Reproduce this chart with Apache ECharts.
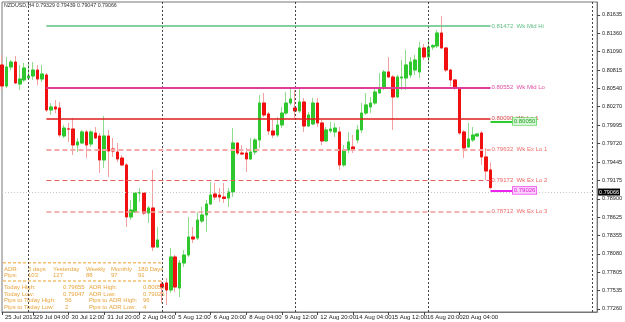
<!DOCTYPE html>
<html><head><meta charset="utf-8">
<script src="https://cdn.jsdelivr.net/npm/echarts@6/dist/echarts.min.js"></script>
<style>html,body{margin:0;padding:0;background:#fff}#c{width:625px;height:322px}</style>
</head><body><div id="c"></div><script>
const symbolName = 'NZDUSD,H4';
const barOpen = [0.80891,0.80578,0.80861,0.80935,0.80608,0.80668,0.80697,0.80727,0.80816,0.80682,
0.80742,0.80221,0.80266,0.80251,0.79834,0.79938,0.79938,0.79700,0.79730,0.79894,
0.79715,0.79879,0.79834,0.79477,0.79834,0.79641,0.79596,0.79507,0.79403,0.78629,
0.78703,0.78986,0.78986,0.78688,0.78763,0.78182,0.77632,0.77647,0.77543,0.78034,
0.77572,0.77944,0.78063,0.78331,0.78316,0.78569,0.78659,0.78822,0.78971,0.78956,
0.78926,0.78912,0.79001,0.79730,0.79581,0.79581,0.79492,0.79596,0.79775,0.80325,
0.80162,0.79909,0.79849,0.79998,0.80176,0.80325,0.80251,0.80206,0.80340,0.79983,
0.80013,0.80325,0.80028,0.79760,0.79909,0.79894,0.79894,0.79403,0.79626,0.79671,
0.79775,0.79924,0.80176,0.80266,0.80325,0.80474,0.80549,0.80787,0.80712,0.80415,
0.80697,0.80697,0.80742,0.80816,0.80787,0.81144,0.81010,0.81159,0.81174,0.81367,
0.81144,0.80816,0.80668,0.80549,0.79894,0.79671,0.79775,0.79834,0.79879,0.79522,0.79329];
const barHigh = [0.81040,0.81010,0.80965,0.81025,0.80891,0.80921,0.80935,0.80935,0.80891,0.80891,
0.80772,0.80325,0.80370,0.80340,0.79998,0.80028,0.80102,0.79804,0.79924,0.79924,
0.79924,0.79968,0.79879,0.80132,0.79924,0.79804,0.79730,0.79551,0.79432,0.78882,
0.79001,0.79060,0.79001,0.78793,0.79328,0.78480,0.77677,0.77721,0.78168,0.78063,
0.77989,0.78138,0.78629,0.78480,0.78703,0.78778,0.78882,0.79150,0.79135,0.79060,
0.79135,0.79060,0.79953,0.79745,0.79700,0.79656,0.79804,0.79804,0.80444,0.80474,
0.80191,0.80072,0.80117,0.80266,0.80489,0.80534,0.80519,0.80534,0.80400,0.80191,
0.80400,0.80400,0.80072,0.79968,0.80043,0.80028,0.79968,0.79700,0.79894,0.79849,
0.79998,0.80325,0.80474,0.80415,0.80563,0.80772,0.80816,0.81010,0.80742,0.80742,
0.80965,0.81114,0.81010,0.81040,0.81233,0.81203,0.81263,0.81203,0.81412,0.81620,
0.81159,0.80831,0.80682,0.80563,0.79924,0.80028,0.79968,0.79879,0.79909,0.79655,0.79439];
const barLow = [0.80519,0.80549,0.80816,0.80608,0.80519,0.80638,0.80668,0.80668,0.80593,0.80638,
0.80191,0.80147,0.80176,0.79819,0.79804,0.79745,0.79551,0.79596,0.79715,0.79507,
0.79671,0.79790,0.79284,0.79358,0.79224,0.79522,0.79447,0.79388,0.78480,0.78584,
0.78688,0.78852,0.78659,0.78540,0.78123,0.78168,0.77349,0.77319,0.77498,0.77513,
0.77438,0.77885,0.78034,0.78242,0.78287,0.78540,0.78406,0.78807,0.78882,0.78852,
0.78837,0.78778,0.78926,0.79551,0.79551,0.79298,0.79477,0.79551,0.79656,0.80117,
0.79849,0.79804,0.79819,0.79953,0.80147,0.80296,0.80102,0.80176,0.79894,0.79968,
0.79998,0.79968,0.79700,0.79745,0.79879,0.79819,0.79328,0.79373,0.79581,0.79581,
0.79730,0.79879,0.80147,0.80176,0.80296,0.80474,0.80519,0.80697,0.79924,0.80400,
0.80519,0.80519,0.80697,0.80742,0.80697,0.80965,0.80921,0.81114,0.81144,0.81129,
0.80787,0.80578,0.80519,0.79849,0.79507,0.79656,0.79745,0.79819,0.79403,0.79179,0.79047];
const barClose = [0.80578,0.80861,0.80935,0.80623,0.80682,0.80846,0.80727,0.80816,0.80682,0.80757,
0.80221,0.80266,0.80236,0.79849,0.79953,0.79938,0.79700,0.79745,0.79894,0.79700,
0.79894,0.79804,0.79477,0.79834,0.79611,0.79611,0.79492,0.79403,0.78629,0.78733,
0.78986,0.78990,0.78688,0.78763,0.78182,0.78287,0.77587,0.77543,0.78034,0.77587,
0.77944,0.78063,0.78331,0.78301,0.78584,0.78659,0.78822,0.78956,0.78926,0.78926,
0.78904,0.79001,0.79730,0.79581,0.79566,0.79492,0.79596,0.79775,0.80325,0.80147,
0.79909,0.79849,0.79998,0.80176,0.80325,0.80385,0.80206,0.80340,0.79983,0.80147,
0.80325,0.80028,0.79760,0.79924,0.79938,0.79953,0.79403,0.79626,0.79745,0.79626,
0.79924,0.80176,0.80296,0.80325,0.80489,0.80549,0.80787,0.80712,0.80415,0.80712,
0.80712,0.80891,0.80935,0.80965,0.81144,0.81010,0.81159,0.81181,0.81367,0.81144,
0.80816,0.80668,0.80549,0.79879,0.79656,0.79790,0.79849,0.79864,0.79522,0.79313,0.79066];

const slotCount = 135;
const xTickBars = [0,7,15,23,31,39,47,55,63,71,79,87,95,103];
const xTickLabels = ['25 Jul 2013','29 Jul 04:00','30 Jul 12:00','31 Jul 20:00','2 Aug 04:00','5 Aug 12:00','6 Aug 20:00','8 Aug 04:00','9 Aug 12:00','12 Aug 20:00','14 Aug 04:00','15 Aug 12:00','16 Aug 20:00','20 Aug 04:00'];
const priceTicks = [0.77260,0.77535,0.77805,0.78080,0.78355,0.78625,0.78900,0.79175,0.79445,0.79720,0.79995,0.80270,0.80540,0.80815,0.81090,0.81360,0.81635];
const priceRange = [0.77215, 0.81828];
const vLineBars = [6,36,66,96,133];
const levelNames = ['Wk Mid Hi','Wk Mid Lo','Wk Lo 1','Wk Ex Lo 1','Wk Ex Lo 2','Wk Ex Lo 3'];
const levelValues = [0.81472,0.80552,0.80090,0.79632,0.79172,0.78712];
const levelBars = [10, 110];
const adrLevelValues = [0.80050, 0.79026];
const adrBars = [110, 115];
const adrPeriods = ['5 days','Yesterday','Weekly','Monthly','180 Days'];
const adrPips = [103,127,88,97,91];
const todayHigh = 0.79655, todayLow = 0.79047;
const pipsToToday = [56, 2];
const pipsToAdr = [96, 4];

const FONT = '"Liberation Sans", Arial, sans-serif';
const last = barClose.length - 1;
const bodyData = barOpen.map((o,i)=>[o, barClose[i], Math.min(o,barClose[i]), Math.max(o,barClose[i])]);
const wickData = barOpen.map((o,i)=>[o, barClose[i], barLow[i], barHigh[i]]);
const slots = Array.from({length: slotCount}, (_, i) => String(i));
const tickMap = {}; xTickBars.forEach((b,k)=>tickMap[b]=xTickLabels[k]);

const levelStyles = [
  {color:'#5cbf80', width:1.5, type:'solid', text:'#5cbf80'},
  {color:'#e03c9c', width:2, type:'solid', text:'#e04aa4'},
  {color:'#e01c1c', width:1.5, type:'solid', text:'#d84848'},
  {color:'#f5a8a8', width:2, type:[5,3], text:'#f06868'},
  {color:'#ea5c5c', width:1, type:[5,3], text:'#f06060'},
  {color:'#f29c9c', width:1.6, type:[5,3], text:'#f06868'}
];

const markData = [];
markData.push({yAxis: barClose[last], lineStyle:{color:'#c8c8c8', width:1, type:[1,2]},
  label:{show:true, position:'end', distance:1, formatter: barClose[last].toFixed(5), backgroundColor:'#000', color:'#fff', padding:[1,1,0,1], fontSize:5.5, fontFamily:FONT}});
vLineBars.forEach(b=>markData.push({xAxis: String(b), lineStyle:{color:'#444', width:1, type:[2,2]}, label:{show:false}}));
levelValues.forEach((v,k)=>{
  const s = levelStyles[k];
  markData.push([{coord:[String(levelBars[0]), v], lineStyle:{color:s.color, width:s.width, type:s.type},
    label:{show:true, position:'end', distance:1, formatter: v.toFixed(5)+'  '+levelNames[k], color:s.text, fontSize:6, fontFamily:FONT, padding:[8,0,0,0]}},
    {coord:[String(levelBars[1]), v]}]);
});
const adrStyles = [{line:'#2ecc2e', text:'#22a022', bg:'#d6f5d6'},{line:'#ee22ee', text:'#e020e0', bg:'#fbd2fb'}];
adrLevelValues.forEach((v,k)=>{
  const s = adrStyles[k];
  markData.push([{coord:[String(adrBars[0]), v], lineStyle:{color:s.line, width:2, type:'solid'},
    label:{show:true, position:'end', distance:0, formatter: v.toFixed(5), color:s.text, fontSize:6, fontFamily:FONT,
      backgroundColor:s.bg, borderColor:s.line, borderWidth:0.6, padding:[1,1,0,1]}},
    {coord:[String(adrBars[1]), v]}]);
});

// info panel graphics
const orange = '#e9a43c';
const g = [];
function txt(x,y,t,opt){ g.push(Object.assign({type:'text', x:x, y:y, silent:true, style:{text:String(t), fill:orange, font:'6px '+FONT, verticalAlign:'middle'}}, opt||{})); }
g.push({type:'text', x:4, y:6, silent:true, style:{text: symbolName+' '+[barOpen[last],barHigh[last],barLow[last],barClose[last]].map(v=>v.toFixed(5)).join(' '), fill:'#333', font:'5.3px '+FONT, verticalAlign:'middle'}});
g.push({type:'line', silent:true, shape:{x1:3,y1:262.7,x2:163,y2:262.7}, style:{stroke:'#f2c070', lineWidth:1.5, lineDash:[3,2]}});
g.push({type:'line', silent:true, shape:{x1:3,y1:281,x2:163,y2:281}, style:{stroke:'#f2c070', lineWidth:1.5, lineDash:[3,2]}});
const colX = [28,53,86,111,138];
txt(4,269,'ADR:'); txt(4,275.7,'Pips:');
adrPeriods.forEach((p,k)=>{ txt(colX[k],269,p); txt(colX[k],275.7,adrPips[k]); });
txt(4,287.7,'Today High:'); txt(63,287.7,todayHigh.toFixed(5)); txt(89,287.7,'ADR High:'); txt(143,287.7,adrLevelValues[0].toFixed(5));
txt(4,294.3,'Today Low:'); txt(63,294.3,todayLow.toFixed(5)); txt(89,294.3,'ADR Low:'); txt(143,294.3,adrLevelValues[1].toFixed(5));
txt(4,300.7,'Pips to Today High:'); txt(65,300.7,pipsToToday[0]); txt(89,300.7,'Pips to ADR High:'); txt(143,300.7,pipsToAdr[0]);
txt(4,307.3,'Pips to Today Low:'); txt(65,307.3,pipsToToday[1]); txt(89,307.3,'Pips to ADR Low:'); txt(143,307.3,pipsToAdr[1]);

const chart = echarts.init(document.getElementById('c'), null, {renderer:'canvas'});
chart.setOption({
  animation:false,
  backgroundColor:'#fff',
  grid:{left:2, right:24, top:2, bottom:10, show:true, borderColor:'#777', borderWidth:1},
  xAxis:{type:'category', data:slots, boundaryGap:false,
    axisLine:{show:true, lineStyle:{color:'#777'}},
    axisTick:{show:true, length:3, interval:(i)=>tickMap[i]!==undefined, lineStyle:{color:'#444'}},
    axisLabel:{show:true, showMinLabel:true, hideOverlap:false, interval:(i)=>tickMap[i]!==undefined, formatter:(v,i)=>tickMap[i]||'', align:'left', margin:2, padding:[0,0,0,3], fontSize:6, color:'#222', fontFamily:FONT},
    splitLine:{show:false}},
  yAxis:{type:'value', position:'right', min:priceRange[0], max:priceRange[1], scale:true,
    axisLine:{show:true, lineStyle:{color:'#777'}},
    axisTick:{show:true, length:3, customValues:priceTicks, lineStyle:{color:'#444'}},
    axisLabel:{show:true, customValues:priceTicks, formatter:(v)=>v.toFixed(5), fontSize:5.5, color:'#222', margin:5, fontFamily:FONT},
    splitLine:{show:false}},
  series:[
    {type:'candlestick', data:wickData, barWidth:3, clip:false, silent:true,
      itemStyle:{color:'transparent', color0:'transparent', borderColor:'#8fdc8f', borderColor0:'#f4a0a0', borderWidth:1}},
    {type:'candlestick', data:bodyData, barWidth:3, clip:false, silent:true,
      itemStyle:{color:'#2ec82e', color0:'#f01010', borderColor:'#2ec82e', borderColor0:'#f01010', borderWidth:1},
      markLine:{silent:true, symbol:['none','none'], animation:false, data:markData}}
  ],
  graphic:g
});
</script></body></html>
